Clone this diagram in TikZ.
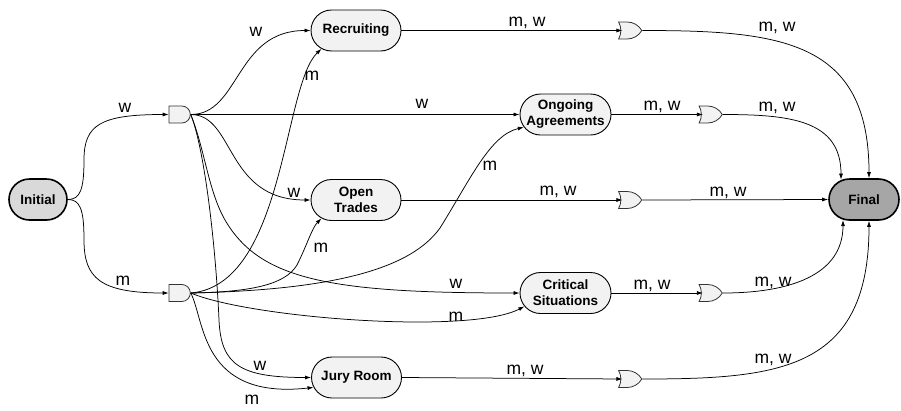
\documentclass[tikz,border=0pt]{standalone}
\usepackage{fontspec}
\setmainfont{Liberation Sans}
\usetikzlibrary{shapes.misc,shapes.gates.logic.US,arrows.meta}
\definecolor{nodefill}{HTML}{F2F2F2}
\definecolor{initfill}{HTML}{D9D9D9}
\definecolor{finalfill}{HTML}{A6A6A6}
\definecolor{edgecol}{HTML}{000000}
\definecolor{gatecol}{HTML}{333333}
\begin{document}
\begin{tikzpicture}[x=1pt,y=-1pt,
  state/.style={rounded rectangle, draw=edgecol, fill=nodefill, line width=0.9pt,
    minimum height=41pt, inner sep=1pt, font=\fontsize{13.5}{16}\selectfont\bfseries, align=center},
  term/.style={state, line width=1.6pt},
  andg/.style={and gate US, draw=gatecol, fill=nodefill, logic gate inputs=nn,
    minimum width=17pt, minimum height=17pt, inner sep=0pt, line width=0.8pt},
  org/.style={or gate US, draw=gatecol, fill=nodefill, logic gate inputs=nn,
    minimum width=17pt, minimum height=17pt, inner sep=0pt, line width=0.8pt},
  conn/.style={draw=edgecol, -{Latex[length=6pt,width=4pt]}, line width=0.75pt},
  lab/.style={font=\fontsize{17.5}{17.5}\selectfont, inner sep=0pt}
]
\useasboundingbox (0,0) rectangle (901,410);

% states
\node[term, fill=initfill, minimum width=60pt] (init) at (38,199.5) {Initial};
\node[term, fill=finalfill, minimum width=72pt] (fin) at (864,199.5) {Final};
\node[state, minimum width=92pt] (rec) at (356,30.5) {Recruiting};
\node[state, minimum width=93pt] (ong) at (565.5,114.5) {Ongoing\\Agreements};
\node[state, minimum width=92pt] (ot) at (356,200) {Open\\Trades};
\node[state, minimum width=93pt] (crit) at (565.5,293) {Critical\\Situations};
\node[state, minimum width=92pt] (jury) at (356.5,377.5) {Jury Room};

% gates
\node[andg] (and1) at (179,114.5) {};
\node[andg] (and2) at (179,293) {};
\node[org] (or1) at (628.5,30.5) {};
\node[org] (or2) at (709,114.5) {};
\node[org] (or3) at (628.5,200) {};
\node[org] (or4) at (709,293) {};
\node[org] (or5) at (628.5,379) {};

% initial to gates
\draw[conn] (init.east) .. controls (80,199.5) and (84,190) .. (84,160) .. controls (84,125) and (100,114.5) .. (and1.west);
\draw[conn] (init.east) .. controls (80,199.5) and (84,209) .. (84,240) .. controls (84,278) and (100,293) .. (and2.west);

% from and1 (w)
\draw[conn] (and1.east) .. controls (240,114.5) and (235,30.5) .. (rec.west);
\draw[conn] (and1.east) -- (ong.west);
\draw[conn] (and1.east) .. controls (235,114.5) and (225,200) .. (ot.west);
\draw[conn] (and1.east) .. controls (205,150) and (208,190) .. (225,220) .. controls (260,280) and (330,293) .. (crit.west);
\draw[conn] (and1.east) .. controls (205,150) and (216,250) .. (219,320) .. controls (221,365) and (240,377.5) .. (jury.west);

% from and2 (m)
\draw[conn] (and2.east) .. controls (285,285) and (283,85) .. (rec.208);
\draw[conn] (and2.east) .. controls (250,292) and (285,285) .. (297,265) .. controls (307,245) and (312,228) .. (ot.208);
\draw[conn] (and2.east) .. controls (330,290) and (410,270) .. (440,228) .. controls (470,180) and (490,135) .. (ong.197);
\draw[conn] (and2.east) .. controls (250,318) and (470,335) .. (crit.198);
\draw[conn] (and2.east) .. controls (205,320) and (200,400) .. (jury.193);

% states to or gates
\draw[conn] (rec.east) -- ([xshift=2pt]or1.west);
\draw[conn] (ong.east) -- ([xshift=2pt]or2.west);
\draw[conn] (ot.east) -- ([xshift=2pt]or3.west);
\draw[conn] (crit.east) -- ([xshift=2pt]or4.west);
\draw[conn] (jury.east) -- ([xshift=2pt]or5.west);

% or gates to final
\draw[conn] (or1.output) .. controls (780,30.5) and (869,40) .. ([xshift=5pt]fin.north);
\draw[conn] (or2.output) .. controls (790,114.5) and (841,120) .. ([xshift=-23pt,yshift=-1.4pt]fin.north);
\draw[conn] (or3.output) -- (fin.west);
\draw[conn] (or4.output) .. controls (790,293) and (843,275) .. ([xshift=-21pt,yshift=0.8pt]fin.south);
\draw[conn] (or5.output) .. controls (780,379) and (869,370) .. ([xshift=5pt]fin.south);

% labels
\node[lab] (l1) at (125,108) {w};
\node[lab] (l2) at (123,281) {m};
\node[lab] (l3) at (256,32) {w};
\node[lab] (l4) at (312,76) {m};
\node[lab] (l5) at (422,104) {w};
\node[lab] (l6) at (294,193) {w};
\node[lab] (l7) at (321,248) {m};
\node[lab] (l8) at (260,366) {w};
\node[lab] (l9) at (252,400) {m};
\node[lab] (l10) at (527,23) {m, w};
\node[lab] (l11) at (662,107) {m, w};
\node[lab] (l12) at (490,166) {m};
\node[lab] (l13) at (558,192) {m, w};
\node[lab] (l14) at (456,284) {w};
\node[lab] (l15) at (456,317) {m};
\node[lab] (l16) at (652,286) {m, w};
\node[lab] (l17) at (525,371) {m, w};
\node[lab] (l18) at (777,28) {m, w};
\node[lab] (l19) at (777,108) {m, w};
\node[lab] (l20) at (728,193) {m, w};
\node[lab] (l21) at (773,283) {m, w};
\node[lab] (l22) at (773,360) {m, w};
\end{tikzpicture}
\end{document}
